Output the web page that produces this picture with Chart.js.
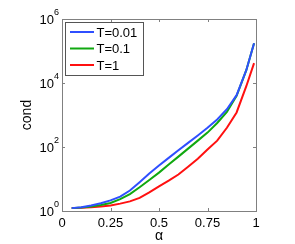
<!DOCTYPE html>
<html>
<head>
<meta charset="utf-8">
<script src="https://cdn.jsdelivr.net/npm/chart.js@4/dist/chart.umd.min.js"></script>
<style>
  html, body { margin: 0; padding: 0; background: #fff; }
  canvas { display: block; }
</style>
</head>
<body>
<canvas id="grafico" width="295" height="244"></canvas>
<script>
// valores
const alphas = [0.05, 0.1, 0.15, 0.2, 0.25, 0.3, 0.35, 0.4, 0.45, 0.5, 0.55, 0.6, 0.65, 0.7, 0.75, 0.8, 0.85, 0.9, 0.95, 0.99];
const condT001 = [1.23, 1.32, 1.48, 1.74, 2.14, 2.82, 4.37, 7.94, 14.8, 26.3, 45.7, 79.4, 135, 229, 398, 724, 1514, 4169, 25119, 173780];
const condT01 = [1.23, 1.29, 1.38, 1.55, 1.78, 2.34, 3.39, 5.5, 9.33, 15.8, 28.2, 50.1, 89.1, 158, 282, 562, 1259, 3981, 25119, 173780];
const condT1 = [1.23, 1.26, 1.32, 1.38, 1.48, 1.70, 2.0, 2.57, 3.8, 5.89, 8.91, 13.8, 24.0, 42.7, 83.2, 158, 398, 1202, 7943, 41687];
const seriesLabels = ["T=0.01", "T=0.1", "T=1"];
const xTicks = [0, 0.25, 0.5, 0.75, 1];
const yTicks = [1, 1e2, 1e4, 1e6];

const cores = ["#2f4fff", "#10a810", "#ff1010"];
const fonte = "'Liberation Sans', Arial, sans-serif";

function pontos(valores) {
    return alphas.map((a, i) => ({ x: a, y: valores[i] }));
}

// Moldura, marcas internas, rótulos do eixo y e legenda
const moldura = {
    id: "moldura",
    afterDraw(chart) {
        const ctx = chart.ctx;
        const { left, right, top, bottom } = chart.chartArea;
        const sx = chart.scales.x;
        const sy = chart.scales.y;
        ctx.save();
        ctx.strokeStyle = "#808080";
        ctx.lineWidth = 1;
        ctx.strokeRect(Math.round(left) + 0.5, Math.round(top) + 0.5, Math.round(right - left), Math.round(bottom - top));

        ctx.beginPath();
        sx.ticks.forEach(t => {
            const px = Math.round(sx.getPixelForValue(t.value)) + 0.5;
            ctx.moveTo(px, bottom); ctx.lineTo(px, bottom - 3);
            ctx.moveTo(px, top); ctx.lineTo(px, top + 3);
        });
        sy.ticks.forEach(t => {
            const py = Math.round(sy.getPixelForValue(t.value)) + 0.5;
            ctx.moveTo(left, py); ctx.lineTo(left + 3, py);
            ctx.moveTo(right, py); ctx.lineTo(right - 3, py);
        });
        ctx.stroke();

        // rótulos 10^n
        ctx.fillStyle = "#000";
        ctx.textBaseline = "middle";
        sy.ticks.forEach(t => {
            const py = sy.getPixelForValue(t.value);
            const exp = Math.round(Math.log10(t.value));
            ctx.font = "13px " + fonte;
            ctx.textAlign = "right";
            ctx.fillText("10", left - 8, py + 1);
            ctx.font = "9px " + fonte;
            ctx.textAlign = "left";
            ctx.fillText(String(exp), left - 8, py - 6);
        });

        // título do eixo y
        ctx.save();
        ctx.translate(27, (top + bottom) / 2);
        ctx.rotate(-Math.PI / 2);
        ctx.font = "14px " + fonte;
        ctx.textAlign = "center";
        ctx.textBaseline = "middle";
        ctx.fillText("cond", 0, 0);
        ctx.restore();

        // legenda
        const lx = left + 3.5, ly = top + 3.5, lw = 78, lh = 53;
        ctx.fillStyle = "#fff";
        ctx.fillRect(lx, ly, lw, lh);
        ctx.strokeStyle = "#555";
        ctx.strokeRect(lx, ly, lw, lh);
        chart.data.datasets.forEach((ds, i) => {
            const y = ly + 9.5 + i * 16.5;
            ctx.strokeStyle = ds.borderColor;
            ctx.lineWidth = 2;
            ctx.beginPath();
            ctx.moveTo(lx + 4.5, y);
            ctx.lineTo(lx + 28.5, y);
            ctx.stroke();
            ctx.fillStyle = "#000";
            ctx.font = "13px " + fonte;
            ctx.textAlign = "left";
            ctx.textBaseline = "middle";
            ctx.fillText(ds.label, lx + 31, y + 1);
        });
        ctx.restore();
    }
};

new Chart(document.getElementById("grafico"), {
    type: "line",
    data: {
        datasets: [condT001, condT01, condT1].map((v, i) => ({
            label: seriesLabels[i],
            data: pontos(v),
            borderColor: cores[i],
            backgroundColor: cores[i],
            borderWidth: 2,
            pointRadius: 0,
            tension: 0,
            fill: false,
        })),
    },
    options: {
        responsive: false,
        animation: false,
        devicePixelRatio: 1,
        layout: { padding: { top: 19, right: 39, left: 0, bottom: 0 } },
        plugins: {
            legend: { display: false },
            tooltip: { enabled: false },
        },
        scales: {
            x: {
                type: "linear",
                min: 0,
                max: 1,
                afterBuildTicks: s => { s.ticks = xTicks.map(v => ({ value: v })); },
                afterFit: s => { s.height = 33; },
                grid: { display: false, drawTicks: false },
                border: { display: false },
                ticks: {
                    padding: 5,
                    color: "#000",
                    font: { family: fonte, size: 13 },
                    maxRotation: 0,
                    callback: v => String(v),
                },
                title: {
                    display: true,
                    text: "α",
                    color: "#000",
                    padding: { top: 0, bottom: 1 },
                    font: { family: fonte, size: 14, lineHeight: 1 },
                },
            },
            y: {
                type: "logarithmic",
                min: 1,
                max: 1e6,
                afterBuildTicks: s => { s.ticks = yTicks.map(v => ({ value: v })); },
                afterFit: s => { s.width = 62; },
                grid: { display: false, drawTicks: false },
                border: { display: false },
                ticks: { display: false },
            },
        },
    },
    plugins: [moldura],
});
</script>
</body>
</html>
